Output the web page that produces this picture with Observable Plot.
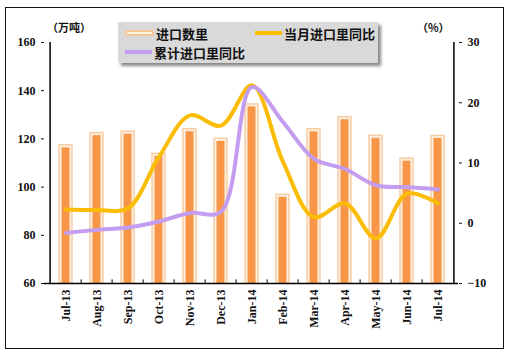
<!DOCTYPE html>
<html><head><meta charset="utf-8">
<script src="https://cdn.jsdelivr.net/npm/d3@7"></script>
<script src="https://cdn.jsdelivr.net/npm/@observablehq/plot@0.6"></script>
<style>
body{margin:0;background:#fff;}
#wrap{position:relative;width:511px;height:357px;overflow:hidden;}
#frame{position:absolute;left:5px;top:7px;width:497px;height:340px;border:1.5px solid #111;}
#chart{position:absolute;left:0;top:0;}
.unit{position:absolute;font:bold 11px "Noto Sans CJK SC",sans-serif;color:#111;}
#legend{position:absolute;left:118px;top:22px;width:260px;height:41px;background:#d9d9d9;box-shadow:3px 3px 3px #888;font:bold 13px "Noto Sans CJK SC",sans-serif;color:#111;}
.li{position:absolute;display:flex;align-items:center;white-space:nowrap;height:18px;}
.sw{width:27px;margin-right:2px;}
</style></head>
<body><div id="wrap"><div id="frame"></div><div id="chart"></div>
<div class="unit" style="left:47px;top:19px">（万吨）</div>
<div class="unit" style="left:417px;top:19px">（%）</div>
<div id="legend"></div>
</div>
<script>
const months = ["Jul-13","Aug-13","Sep-13","Oct-13","Nov-13","Dec-13","Jan-14","Feb-14","Mar-14","Apr-14","May-14","Jun-14","Jul-14"];
const importVol = [117.3,122.4,123,113.8,124,120,134.3,96.8,124,129,121.3,111.8,121.2];
const monthlyYoY = [2.3,2.2,2.5,11.0,17.9,16.2,22.9,10.2,1.0,3.3,-2.5,4.9,3.3];
const cumulativeYoY = [-1.6,-1.1,-0.7,0.3,1.7,1.9,22.6,16.8,10.7,9.0,6.3,6.0,5.6];
const leftTicks = [60,80,100,120,140,160];
const rightTicks = [-10,0,10,20,30];
const seriesNames = ["进口数里","当月进口里同比","累计进口里同比"];
const colors = {bar:"#f79646", barEdge:"#f8cda3", barFill:"#fdf1e4", yellow:"#fbbc05", purple:"#c49cf0"};

// right axis (-10..30) mapped onto left scale (60..160)
const toLeft = v => 60 + (v + 10) * 100 / 40;
const fromLeft = y => Math.round((y - 60) * 40 / 100 - 10);

const bars = months.map((m,i)=>({m, v: importVol[i]}));
const yl = months.map((m,i)=>({m, v: toLeft(monthlyYoY[i])}));
const pl = months.map((m,i)=>({m, v: toLeft(cumulativeYoY[i])}));

const font = 'bold 12px "Liberation Serif", serif';
const chart = Plot.plot({
  width: 511, height: 357,
  marginLeft: 44, marginRight: 53, marginTop: 42, marginBottom: 74,
  style: {font, color:"#111", background:"transparent"},
  x: {type:"band", domain: months, padding: 0, label: null},
  y: {domain:[60,160], label: null},
  marks: [
    Plot.barY(bars, {x:"m", y1:60, y2:"v", fill: colors.barFill, stroke: colors.barEdge, strokeWidth: 1.5, insetLeft: 9, insetRight: 9}),
    Plot.barY(bars, {x:"m", y1:60, y2:"v", fill: colors.bar, insetLeft: 11.5, insetRight: 11.5, insetTop: 2.5}),
    Plot.line(yl, {x:"m", y:"v", stroke: colors.yellow, strokeWidth: 4, curve:"catmull-rom"}),
    Plot.line(pl, {x:"m", y:"v", stroke: colors.purple, strokeWidth: 4, curve:"catmull-rom"}),
    Plot.axisY(leftTicks, {anchor:"left", label: null, tickSize: 3, tickPadding: 6, fontSize: 12, fontWeight:"bold"}),
    Plot.axisY(rightTicks.map(toLeft), {anchor:"right", label: null, tickSize: 3, tickPadding: 6, tickFormat: d => { const v = fromLeft(d); return v < 0 ? "−" + (-v) : String(v); }, fontSize: 12, fontWeight:"bold"}),
    Plot.axisX({anchor:"bottom", label: null, tickSize: 0, tickPadding: 6, tickRotate: -90, fontSize: 12, fontWeight:"bold"}),
    Plot.ruleY([60], {stroke:"#000", strokeWidth: 1.5}),
    Plot.ruleX([months[0]], {y1:60, y2:160, stroke:"#000", strokeWidth: 1.5, dx: -15.9}),
    Plot.ruleX([months[months.length-1]], {y1:60, y2:160, stroke:"#000", strokeWidth: 1.5, dx: 15.9}),
    Plot.ruleX(months.slice(1), {x: d => d, y1: 60, y2: 61.5, stroke:"#000", dx: -15.9})
  ]
});
document.getElementById("chart").appendChild(chart);

// legend
const lg = document.getElementById("legend");
const items = [
  {name: seriesNames[0], left: 7, top: 2, sw: `<div class="sw" style="height:4px;border:1.5px solid ${colors.barEdge};background:${colors.barFill};box-shadow:inset 0 0 0 1px #f4c393"></div>`},
  {name: seriesNames[1], left: 137, top: 2, sw: `<div class="sw" style="height:4px;background:${colors.yellow}"></div>`},
  {name: seriesNames[2], left: 7, top: 21, sw: `<div class="sw" style="height:4px;background:${colors.purple}"></div>`}
];
items.forEach(it => {
  const d = document.createElement("div");
  d.className = "li";
  d.style.left = it.left + "px"; d.style.top = it.top + "px";
  d.innerHTML = it.sw + `<span>${it.name}</span>`;
  lg.appendChild(d);
});
</script></body></html>
